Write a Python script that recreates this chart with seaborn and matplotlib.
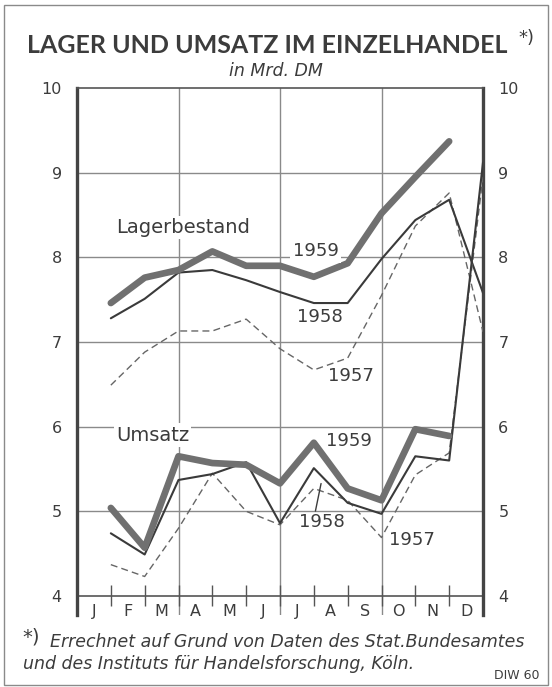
import numpy as np
import pandas as pd
import matplotlib.pyplot as plt
import seaborn as sns
from matplotlib.patches import Rectangle

# month positions: end of month J..D -> 1..12
months = list(range(1, 13))
month_labels = ["J", "F", "M", "A", "M", "J", "J", "A", "S", "O", "N", "D"]

# Lagerbestand (Mrd. DM)
lager_1957 = [6.49, 6.88, 7.13, 7.13, 7.27, 6.92, 6.67, 6.81, 7.55, 8.37, 8.76, 7.12]
lager_1958 = [7.28, 7.51, 7.82, 7.85, 7.73, 7.59, 7.46, 7.46, 7.98, 8.44, 8.68, 7.58]
lager_1959 = [7.46, 7.76, 7.85, 8.07, 7.90, 7.90, 7.77, 7.93, 8.52, 8.95, 9.37, np.nan]

# Umsatz (Mrd. DM)
umsatz_1957 = [4.37, 4.23, 4.80, 5.45, 5.00, 4.84, 5.27, 5.13, 4.69, 5.43, 5.69, 8.95]
umsatz_1958 = [4.74, 4.49, 5.37, 5.44, 5.58, 4.86, 5.51, 5.10, 4.97, 5.65, 5.60, 9.12]
umsatz_1959 = [5.04, 4.57, 5.65, 5.57, 5.55, 5.33, 5.81, 5.27, 5.13, 5.97, 5.89, np.nan]

years = ["1957", "1958", "1959"]

def long_df(series):
    rows = []
    for year, vals in zip(years, series):
        for m, v in zip(months, vals):
            rows.append({"Monat": m, "Wert": v, "Jahr": year})
    return pd.DataFrame(rows)

lager = long_df([lager_1957, lager_1958, lager_1959])
umsatz = long_df([umsatz_1957, umsatz_1958, umsatz_1959])

sns.set_style("white")
plt.rcParams["font.family"] = ["DejaVu Sans"]
ink = "#3c3c3c"

fig = plt.figure(figsize=(5.52, 6.87), dpi=100)
ax = fig.add_axes([0.1395, 0.1054, 0.7355, 0.7665])

palette = {"1957": "#666666", "1958": "#3a3a3a", "1959": "#707070"}
sizes = {"1957": 1.0, "1958": 1.5, "1959": 4.8}
dashes = {"1957": (5, 3), "1958": "", "1959": ""}

for df in (lager, umsatz):
    sns.lineplot(data=df, x="Monat", y="Wert", hue="Jahr", size="Jahr", style="Jahr",
                 hue_order=years, size_order=years, style_order=years,
                 palette=palette, sizes=sizes, dashes=dashes,
                 legend=False, ax=ax, zorder=3)

ax.set_xlim(0, 12)
ax.set_ylim(3.78, 10)

# grid
for x in (3, 6, 9):
    ax.axvline(x, color="#8a8a8a", lw=1.0, zorder=1)
for y in (5, 6, 7, 8, 9):
    ax.axhline(y, color="#8a8a8a", lw=1.0, zorder=1)
ax.axhline(4, color="#555555", lw=1.2, zorder=2)
ax.vlines(months[:-1], 3.88, 4.13, color="#555555", lw=1.0, zorder=2)

ax.spines["bottom"].set_visible(False)
ax.spines["top"].set_color("#555555")
ax.spines["top"].set_linewidth(1.2)
ax.spines["left"].set_color("#444444")
ax.spines["left"].set_linewidth(2.4)
ax.spines["right"].set_color("#444444")
ax.spines["right"].set_linewidth(2.4)

# y ticks both sides
yt = [4, 5, 6, 7, 8, 9, 10]
ax.set_yticks(yt)
ax.set_yticklabels([str(v) for v in yt])
ax.tick_params(axis="y", length=0, pad=11, labelsize=11.5, labelcolor=ink,
               left=True, right=True, labelleft=True, labelright=True)
ax.set_xticks([])
ax.set_xlabel("")
ax.set_ylabel("")

# month labels between the ticks
for i, lab in enumerate(month_labels):
    ax.text(i + 0.5, 3.82, lab, ha="center", va="center", fontsize=11.5, color=ink)

# series labels
box = dict(facecolor="white", edgecolor="none", pad=1.5)
ax.text(1.15, 8.35, "Lagerbestand", fontsize=14, color=ink, ha="left", va="center", bbox=box, zorder=4)
ax.text(7.05, 8.07, "1959", fontsize=13, color=ink, ha="center", va="center", bbox=box, zorder=4)
ax.text(7.17, 7.29, "1958", fontsize=13, color=ink, ha="center", va="center", zorder=4)
ax.text(8.1, 6.6, "1957", fontsize=13, color=ink, ha="center", va="center", zorder=4)
ax.text(1.15, 5.9, "Umsatz", fontsize=14, color=ink, ha="left", va="center", bbox=box, zorder=4)
ax.text(8.05, 5.83, "1959", fontsize=13, color=ink, ha="center", va="center", zorder=4)
ax.text(7.23, 4.87, "1958", fontsize=13, color=ink, ha="center", va="center", zorder=4)
ax.text(9.9, 4.66, "1957", fontsize=13, color=ink, ha="center", va="center", zorder=4)
ax.annotate("", xy=(7.23, 5.36), xytext=(7.03, 4.97),
            arrowprops=dict(arrowstyle="-", color=ink, lw=1.0))

# titles
fig.text(0.049, 0.934, "LAGER UND UMSATZ IM EINZELHANDEL", fontsize=18, fontweight="bold",
         family="Lato", color=ink, ha="left", va="center")
fig.text(0.940, 0.944, "*)", fontsize=13, color=ink, ha="left", va="center")
fig.text(0.50, 0.897, "in Mrd. DM", fontsize=12.5, style="italic", color=ink, ha="center", va="center")

# footnote
fig.text(0.040, 0.073, "*)", fontsize=14, color=ink, ha="left", va="center")
fig.text(0.090, 0.065, "Errechnet auf Grund von Daten des Stat.Bundesamtes", fontsize=12.5,
         style="italic", color=ink, ha="left", va="center")
fig.text(0.042, 0.034, "und des Instituts für Handelsforschung, Köln.", fontsize=12.5,
         style="italic", color=ink, ha="left", va="center")
fig.text(0.978, 0.017, "DIW 60", fontsize=9, color=ink, ha="right", va="center")

# outer frame
fig.patches.append(Rectangle((0.008, 0.003), 0.985, 0.99, transform=fig.transFigure,
                             fill=False, edgecolor="#8a8a8a", lw=1.0))

fig.savefig("out.png", dpi=100, facecolor="white")
